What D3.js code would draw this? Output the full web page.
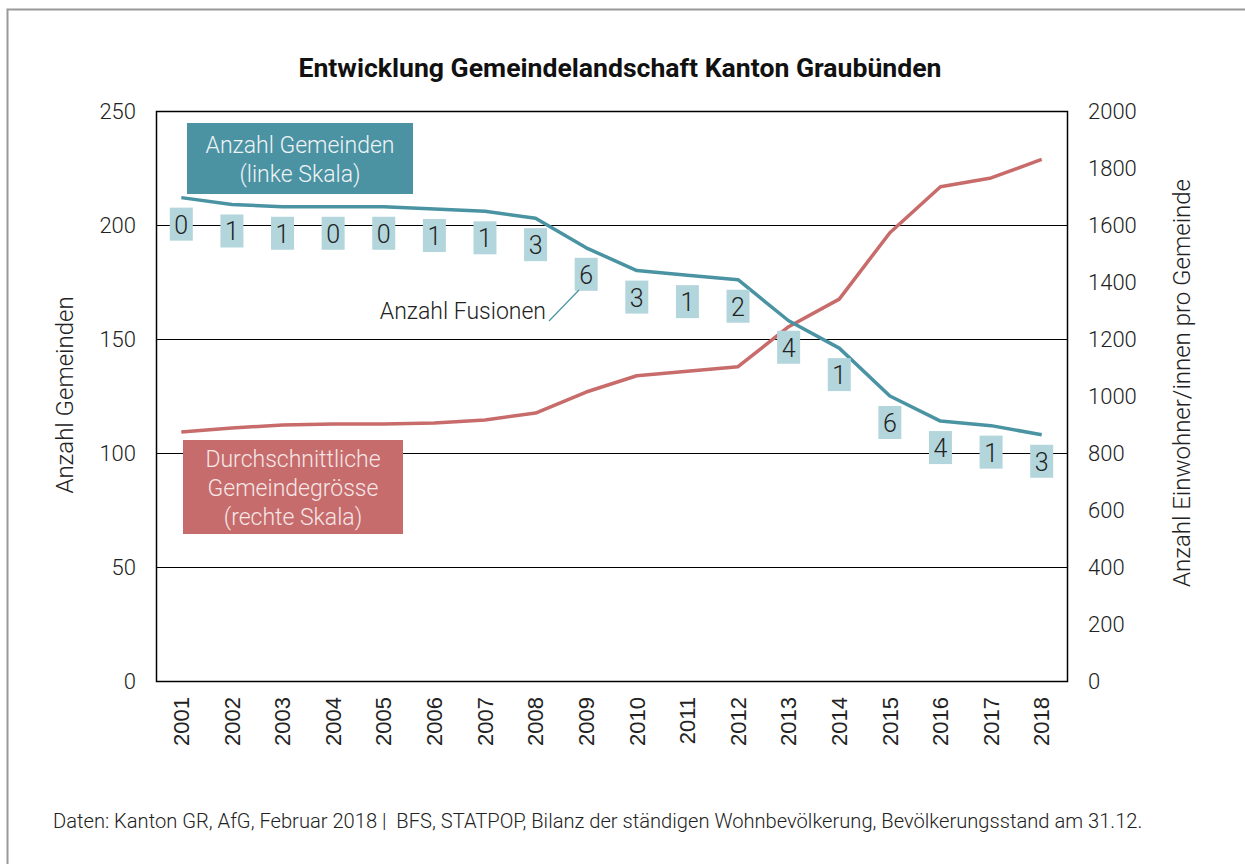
<!DOCTYPE html>
<html><head><meta charset="utf-8">
<script src="https://cdn.jsdelivr.net/npm/d3@7/dist/d3.min.js"></script>
<style>
html,body{margin:0;padding:0;background:#fff;}
svg{display:block;font-family:Roboto, "Noto Sans", sans-serif;}
</style></head>
<body>
<svg id="chart" width="1245" height="864"></svg>
<script>
const years = [2001,2002,2003,2004,2005,2006,2007,2008,2009,2010,2011,2012,2013,2014,2015,2016,2017,2018];
const gemeinden = [212,209,208,208,208,207,206,203,190,180,178,176,158,146,125,114,112,108];
const groesse = [874,888,898,902,902,905,916,940,1014,1071,1087,1103,1243,1340,1573,1734,1765,1830];
const fusionen = [0,1,1,0,0,1,1,3,6,3,1,2,4,1,6,4,1,3];
const leftTicks = [0,50,100,150,200,250];
const rightTicks = [0,200,400,600,800,1000,1200,1400,1600,1800,2000];

const svg = d3.select("#chart");
const m = {l:156, r:1067, t:111, b:681};
const blue = "#4a93a3", red = "#c86b6b";

// outer frame
svg.append("path").attr("d","M7.5,864 V9.5 H1245").attr("fill","none").attr("stroke","#999").attr("stroke-width",2);

const x = d3.scaleBand().domain(years).range([m.l,m.r]);
const yL = d3.scaleLinear().domain([0,250]).range([m.b,m.t]);
const yR = d3.scaleLinear().domain([0,2000]).range([m.b,m.t]);
const cx = d => x(d) + x.bandwidth()/2;

// title
svg.append("text").attr("x",620).attr("y",77).attr("text-anchor","middle")
  .attr("font-size",26.6).attr("font-weight","bold").attr("fill","#111")
  .text("Entwicklung Gemeindelandschaft Kanton Graubünden");

// gridlines
svg.append("g").selectAll("line").data(leftTicks.filter(d=>d>0&&d<250)).join("line")
  .attr("x1",m.l).attr("x2",m.r).attr("y1",d=>yL(d)+0.5).attr("y2",d=>yL(d)+0.5)
  .attr("stroke","#000").attr("stroke-width",1);

// frame
svg.append("rect").attr("x",m.l+0.5).attr("y",m.t+0.5).attr("width",m.r-m.l).attr("height",m.b-m.t)
  .attr("fill","none").attr("stroke","#000").attr("stroke-width",1.5);

// left axis
const ax = d3.axisLeft(yL).tickValues(leftTicks).tickSize(0).tickPadding(20);
const gL = svg.append("g").attr("transform",`translate(${m.l},0)`).call(ax);
gL.select(".domain").remove();
gL.selectAll("text").attr("font-size",22).attr("font-family","Roboto").attr("font-weight",300).attr("fill","#222");

const axR = d3.axisRight(yR).tickValues(rightTicks).tickFormat(d3.format("d")).tickSize(0).tickPadding(21);
const gR = svg.append("g").attr("transform",`translate(${m.r},0)`).call(axR);
gR.select(".domain").remove();
gR.selectAll("text").attr("font-size",22).attr("font-family","Roboto").attr("font-weight",300).attr("fill","#222");

// x axis
const axB = d3.axisBottom(x).tickSize(0).tickPadding(0);
const gB = svg.append("g").attr("transform",`translate(0,${m.b})`).call(axB);
gB.select(".domain").remove();
gB.selectAll("text").attr("font-size",22).attr("font-family","'Liberation Sans', Arial, sans-serif")
  .attr("fill","#222").attr("text-anchor","end").attr("dy","0.35em")
  .attr("transform","translate(0,16) rotate(-90)").attr("x",0).attr("y",0);

// axis titles
svg.append("text").attr("transform","translate(73,395) rotate(-90)").attr("text-anchor","middle")
  .attr("font-size",24).attr("font-weight",300).attr("fill","#222").text("Anzahl Gemeinden");
svg.append("text").attr("transform","translate(1190,383) rotate(-90)").attr("text-anchor","middle")
  .attr("font-size",24).attr("font-weight",300).attr("fill","#222").text("Anzahl Einwohner/innen pro Gemeinde");

// lines
const lineL = d3.line().x((d,i)=>cx(years[i])).y(d=>yL(d));
const lineR = d3.line().x((d,i)=>cx(years[i])).y(d=>yR(d));
svg.append("path").attr("d",lineR(groesse)).attr("fill","none").attr("stroke",red).attr("stroke-width",3.5).attr("stroke-linejoin","round");
svg.append("path").attr("d",lineL(gemeinden)).attr("fill","none").attr("stroke",blue).attr("stroke-width",3.5).attr("stroke-linejoin","round");

// fusion labels
const lab = svg.append("g").selectAll("g").data(fusionen).join("g")
  .attr("transform",(d,i)=>`translate(${cx(years[i])},${yL(gemeinden[i])+10})`);
lab.append("rect").attr("x",-11.5).attr("y",0).attr("width",23).attr("height",33).attr("fill","#b3d5dc");
lab.append("text").attr("x",0).attr("y",26).attr("text-anchor","middle").attr("font-size",25)
  .attr("font-weight",300).attr("fill","#222").text(d=>d);

// annotation
svg.append("line").attr("x1",549).attr("y1",321).attr("x2",579).attr("y2",290).attr("stroke",blue).attr("stroke-width",1.2);
svg.append("text").attr("x",546).attr("y",319).attr("text-anchor","end").attr("font-size",23)
  .attr("font-weight",300).attr("fill","#222").text("Anzahl Fusionen");

// legend boxes
svg.append("rect").attr("x",187).attr("y",123).attr("width",226).attr("height",71).attr("fill","#4b92a3");
svg.append("text").attr("x",300).attr("y",153).attr("text-anchor","middle").attr("font-size",23).attr("font-weight",300).attr("fill","#eef4f5").text("Anzahl Gemeinden");
svg.append("text").attr("x",300).attr("y",182).attr("text-anchor","middle").attr("font-size",23).attr("font-weight",300).attr("fill","#eef4f5").text("(linke Skala)");

svg.append("rect").attr("x",183).attr("y",440).attr("width",220).attr("height",94).attr("fill","#c76c6c");
[["Durchschnittliche",467],["Gemeindegrösse",496],["(rechte Skala)",525]].forEach(([t,yy])=>{
  svg.append("text").attr("x",293).attr("y",yy).attr("text-anchor","middle").attr("font-size",23).attr("font-weight",300).attr("fill","#f6e6e6").text(t);
});

// footer
svg.append("text").attr("x",53).attr("y",828).attr("font-size",20.15).attr("font-weight",300).attr("fill","#222")
  .style("white-space","pre")
  .text("Daten: Kanton GR, AfG, Februar 2018 |  BFS, STATPOP, Bilanz der ständigen Wohnbevölkerung, Bevölkerungsstand am 31.12.");
</script>
</body></html>
